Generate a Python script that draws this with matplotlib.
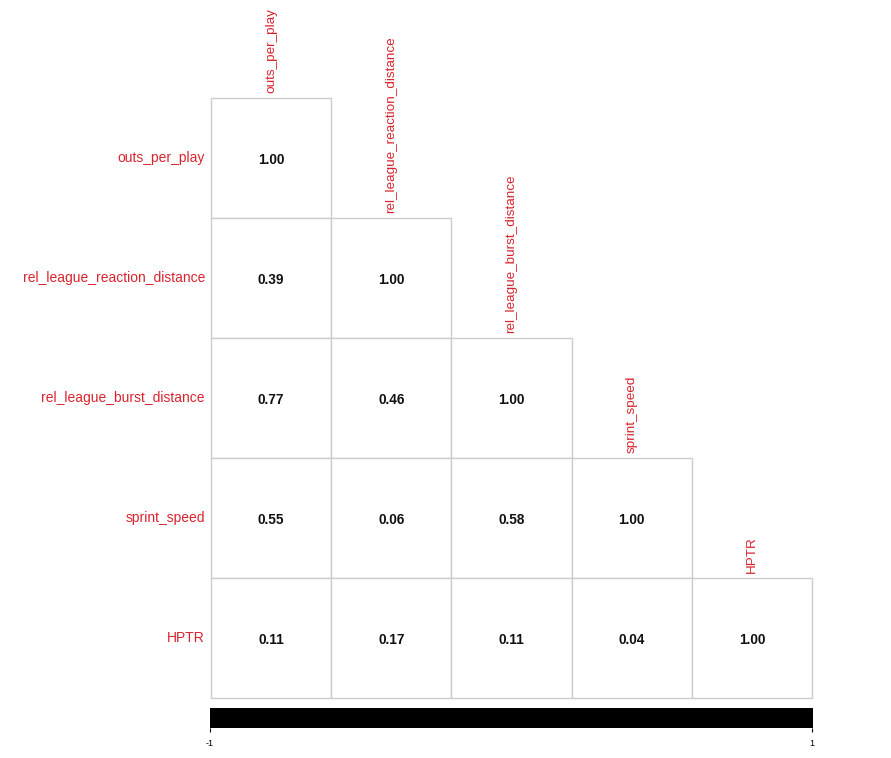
import numpy as np
import matplotlib.pyplot as plt
from matplotlib.patches import Rectangle

plt.rcParams['font.family'] = ['Liberation Sans', 'DejaVu Sans']

# Variables and lower-triangle correlations
variables = ["outs_per_play", "rel_league_reaction_distance",
             "rel_league_burst_distance", "sprint_speed", "HPTR"]
corr = np.array([
    [1.00, np.nan, np.nan, np.nan, np.nan],
    [0.39, 1.00, np.nan, np.nan, np.nan],
    [0.77, 0.46, 1.00, np.nan, np.nan],
    [0.55, 0.06, 0.58, 1.00, np.nan],
    [0.11, 0.17, 0.11, 0.04, 1.00],
])
cbar_ticks = [-1, 1]

W, H = 891, 758
fig = plt.figure(figsize=(W / 100, H / 100), dpi=100)
lab_col = '#d9232d'
n = len(variables)

# Main grid: x 211..812, y 98..698 in pixels
ax = fig.add_axes([211 / W, (H - 698) / H, 601 / W, 600 / H])
ax.set_xlim(0, n)
ax.set_ylim(n, 0)
ax.axis('off')

for i in range(n):
    for j in range(n):
        if np.isnan(corr[i, j]):
            continue
        ax.add_patch(Rectangle((j, i), 1, 1, facecolor='white',
                               edgecolor='#cccccc', linewidth=1, clip_on=False))
        ax.text(j + 0.5, i + 0.52, f"{corr[i, j]:.2f}", ha='center', va='center',
                fontsize=9.8, fontweight='bold', color='#111111')

# Row labels
for i, name in enumerate(variables):
    ax.text(-0.05, i + 0.5, name, ha='right', va='center',
            fontsize=10, color=lab_col, clip_on=False)

# Column labels (start above the diagonal cell)
for j, name in enumerate(variables):
    ax.text(j + 0.5, j - 0.04, name, ha='center', va='bottom', rotation=90,
            fontsize=9.7, color=lab_col, clip_on=False)

# Colour legend bar
cax = fig.add_axes([210 / W, (H - 728) / H, 602 / W, 20 / H])
grad = np.linspace(-1, 1, 200).reshape(1, -1)
cax.imshow(grad, aspect='auto', cmap=plt.matplotlib.colors.ListedColormap(['black']),
           extent=[-1, 1, 0, 1])
cax.set_xlim(-1, 1)
cax.set_yticks([])
cax.set_xticks(cbar_ticks)
cax.set_xticklabels([str(t) for t in cbar_ticks], fontsize=6.5)
cax.tick_params(axis='x', length=3, width=0.8, pad=5)
for s in ['top', 'left', 'right', 'bottom']:
    cax.spines[s].set_visible(False)

fig.savefig('out.png', dpi=100)
